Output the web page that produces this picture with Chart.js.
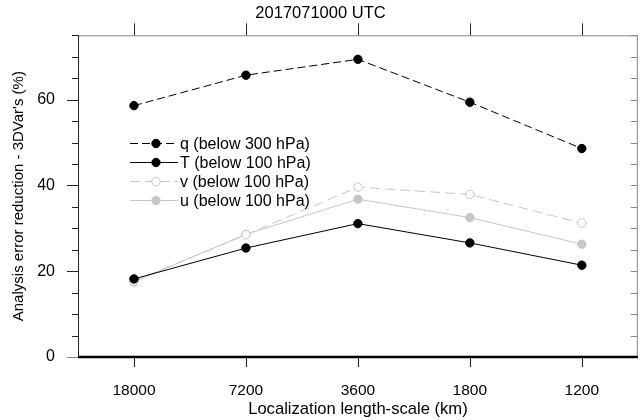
<!DOCTYPE html>
<html>
<head>
<meta charset="utf-8">
<script src="https://cdn.jsdelivr.net/npm/chart.js@4.4.1/dist/chart.umd.min.js"></script>
<style>
  html, body { margin: 0; background: #fff; }
  #wrap { width: 643px; height: 420px; }
</style>
</head>
<body>
<div id="wrap"><canvas id="chart"></canvas></div>
<script>
const lengthScales = ['18000', '7200', '3600', '1800', '1200'];
const qBelow300 = [58.6, 65.7, 69.4, 59.4, 48.6];
const tBelow100 = [18.2, 25.4, 31.1, 26.6, 21.4];
const vBelow100 = [17.7, 28.5, 39.6, 37.9, 31.2];
const uBelow100 = [17.5, 28.6, 36.8, 32.5, 26.3];
const yLabelled = [0, 20, 40, 60];

const FONT = "'Liberation Sans', Arial, sans-serif";
const GREY = '#c6c6c6';

// plot frame + tick marks (ticks follow the library scales)
const framePlugin = {
  id: 'frame',
  afterDatasetsDraw(chart) {
    const { ctx, chartArea: a, scales: { x, y } } = chart;
    ctx.save();
    ctx.lineWidth = 1;
    // top + right border, light
    ctx.strokeStyle = '#888';
    ctx.beginPath();
    ctx.moveTo(a.left, a.top + 0.5); ctx.lineTo(a.right, a.top + 0.5);
    ctx.moveTo(a.right - 0.5, a.top); ctx.lineTo(a.right - 0.5, a.bottom);
    ctx.stroke();

    y.ticks.forEach(t => {
      const py = Math.round(y.getPixelForValue(t.value)) + 0.5;
      ctx.beginPath();
      ctx.moveTo(a.right - 7, py); ctx.lineTo(a.right, py);
      ctx.stroke();
    });

    // left axis, dark
    ctx.strokeStyle = '#222';
    ctx.beginPath();
    ctx.moveTo(a.left + 0.5, a.bottom); ctx.lineTo(a.left + 0.5, a.top);
    ctx.stroke();
    y.ticks.forEach(t => {
      const py = Math.round(y.getPixelForValue(t.value)) + 0.5;
      const len = yLabelled.includes(t.value) ? 11 : 6;
      ctx.strokeStyle = t.value === 0 ? '#888' : '#222';
      ctx.beginPath();
      ctx.moveTo(a.left - len, py); ctx.lineTo(a.left, py);
      ctx.stroke();
    });

    // x ticks: bottom down, top up
    ctx.strokeStyle = '#222';
    x.ticks.forEach((t, i) => {
      const px = Math.round(x.getPixelForTick(i)) + 0.5;
      ctx.beginPath();
      ctx.moveTo(px, a.bottom); ctx.lineTo(px, a.bottom + 10);
      ctx.moveTo(px, a.top); ctx.lineTo(px, a.top - 12);
      ctx.stroke();
    });

    ctx.strokeStyle = '#000';
    ctx.lineWidth = 2.5;
    ctx.beginPath();
    ctx.moveTo(a.left, a.bottom); ctx.lineTo(a.right, a.bottom);
    ctx.stroke();
    ctx.restore();
  }
};

// legend drawn inside the plot, upper left
const innerLegend = {
  id: 'innerLegend',
  afterDraw(chart) {
    const { ctx, chartArea: a } = chart;
    const x0 = a.left + 52, x1 = a.left + 100, xt = a.left + 102;
    let yy = a.top + 108;
    ctx.save();
    ctx.font = '16px ' + FONT;
    ctx.textBaseline = 'middle';
    chart.data.datasets.forEach(ds => {
      const py = Math.round(yy) + 0.5;
      ctx.strokeStyle = ds.borderColor;
      ctx.lineWidth = 1;
      ctx.setLineDash(ds.borderDash || []);
      ctx.beginPath();
      ctx.moveTo(x0, py); ctx.lineTo(x1, py);
      ctx.stroke();
      ctx.setLineDash([]);
      const mx = (x0 + x1) / 2 + 2;
      ctx.beginPath();
      ctx.arc(mx, py, ds.pointRadius, 0, Math.PI * 2);
      ctx.fillStyle = ds.pointBackgroundColor;
      ctx.fill();
      ctx.strokeStyle = ds.pointBorderColor;
      ctx.stroke();
      ctx.fillStyle = '#000';
      ctx.fillText(ds.label, xt, py + 1);
      yy += 19;
    });
    ctx.restore();
  }
};

const lineSet = (label, data, color, dash, fill) => ({
  label,
  data,
  borderColor: color,
  borderWidth: 1,
  borderDash: dash,
  pointRadius: 4.2,
  pointHoverRadius: 4.2,
  pointBorderWidth: 1,
  pointBorderColor: color,
  pointBackgroundColor: fill,
  tension: 0
});

new Chart(document.getElementById('chart'), {
  type: 'line',
  data: {
    labels: lengthScales,
    datasets: [
      lineSet('q (below 300 hPa)', qBelow300, '#000', [8, 4], '#000'),
      lineSet('T (below 100 hPa)', tBelow100, '#000', [], '#000'),
      lineSet('v (below 100 hPa)', vBelow100, GREY, [10, 5], '#fff'),
      lineSet('u (below 100 hPa)', uBelow100, GREY, [], GREY)
    ]
  },
  options: {
    responsive: true,
    maintainAspectRatio: false,
    animation: false,
    devicePixelRatio: 1,
    layout: { padding: { left: 0, right: 2, top: 0, bottom: 0 } },
    plugins: {
      legend: { display: false },
      tooltip: { enabled: false },
      title: {
        display: true,
        text: '2017071000 UTC',
        color: '#000',
        font: { family: FONT, size: 16.5, weight: 'normal' },
        padding: { top: 4, bottom: 11.5 }
      }
    },
    scales: {
      x: {
        offset: true,
        afterFit: s => { s.height = 63; },
        border: { display: false },
        grid: { drawOnChartArea: false, tickLength: 10, tickColor: 'rgba(0,0,0,0)', offset: false },
        ticks: { color: '#000', padding: 14.5, font: { family: FONT, size: 15.5 } },
        title: {
          display: true,
          text: 'Localization length-scale (km)',
          color: '#000',
          font: { family: FONT, size: 16.6 },
          padding: { top: 0, bottom: 1 }
        }
      },
      y: {
        min: 0,
        max: 75,
        afterFit: s => { s.width = 78; },
        border: { display: false },
        grid: { drawOnChartArea: false, tickLength: 11, tickColor: 'rgba(0,0,0,0)' },
        ticks: {
          stepSize: 5,
          autoSkip: false,
          color: '#000',
          padding: 12,
          font: { family: FONT, size: 16 },
          callback: v => (yLabelled.includes(v) ? String(v) : '')
        },
        title: {
          display: true,
          text: "Analysis error reduction - 3DVar's (%)",
          color: '#000',
          font: { family: FONT, size: 15 },
          padding: { top: 10, bottom: 0 }
        }
      }
    }
  },
  plugins: [framePlugin, innerLegend]
});
</script>
</body>
</html>
